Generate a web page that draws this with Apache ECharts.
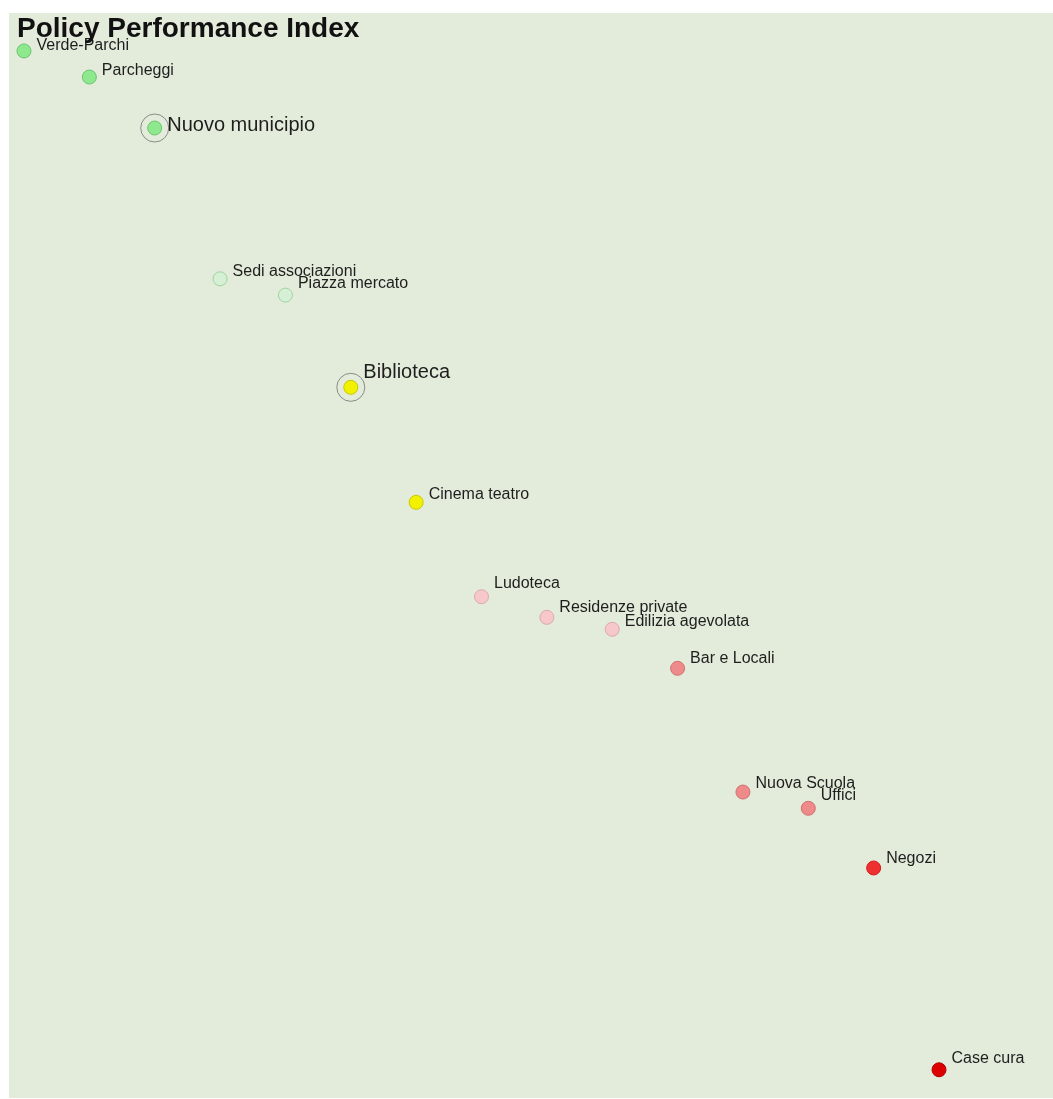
<!DOCTYPE html>
<html>
<head>
<meta charset="utf-8">
<script src="https://cdn.jsdelivr.net/npm/echarts@6/dist/echarts.min.js"></script>
<style>
  html, body { margin: 0; padding: 0; background: #fff; }
  #layout { width: 1053px; height: 1099px; }
</style>
</head>
<body>
<div id="layout"></div>
<script>
// policies, ordered by rank (x) with their performance index (y)
const policies = ['Verde-Parchi', 'Parcheggi', 'Nuovo municipio', 'Sedi associazioni', 'Piazza mercato',
    'Biblioteca', 'Cinema teatro', 'Ludoteca', 'Residenze private', 'Edilizia agevolata',
    'Bar e Locali', 'Nuova Scuola', 'Uffici', 'Negozi', 'Case cura'];
const ranks = [1, 2, 3, 4, 5, 6, 7, 8, 9, 10, 11, 12, 13, 14, 15];
const scores = [96.5, 94.1, 89.4, 75.5, 74.0, 65.5, 54.9, 46.2, 44.3, 43.2, 39.6, 28.2, 26.7, 21.2, 2.6];
// colour class of each point
const classes = ['g', 'g', 'g', 'lg', 'lg', 'y', 'y', 'p', 'p', 'p', 'lc', 'lc', 'lc', 'r', 'dr'];
// policies drawn with a ring and a larger label
const featured = ['Nuovo municipio', 'Biblioteca'];

const palette = {
    g:  { fill: '#8ee88e', border: '#6cc46c' },
    lg: { fill: '#d6f0d6', border: '#9fd49f' },
    y:  { fill: '#f2f200', border: '#c8c800' },
    p:  { fill: '#f6c8cc', border: '#dca8ac' },
    lc: { fill: '#ee8a8a', border: '#d07070' },
    r:  { fill: '#ee3030', border: '#d02020' },
    dr: { fill: '#dd0000', border: '#b00000' }
};
// vertical nudge of each label (px)
const labelDy = {
    'Verde-Parchi': -5, 'Parcheggi': -6, 'Nuovo municipio': -3, 'Sedi associazioni': -7,
    'Piazza mercato': -12, 'Biblioteca': -15, 'Cinema teatro': -8, 'Ludoteca': -13,
    'Residenze private': -10, 'Edilizia agevolata': -8, 'Bar e Locali': -10,
    'Nuova Scuola': -8, 'Uffici': -13, 'Negozi': -9, 'Case cura': -11
};

let myChart = echarts.init(document.getElementById('layout'));

let points = policies.map(function(name, i) {
    let c = palette[classes[i]];
    let big = featured.indexOf(name) >= 0;
    return {
        name: name,
        value: [ranks[i], scores[i]],
        itemStyle: { color: c.fill, borderColor: c.border, borderWidth: 1, opacity: 1 },
        label: {
            fontSize: big ? 20 : 16,
            offset: [0, labelDy[name]]
        }
    };
});

let rings = policies.map(function(name, i) {
    return featured.indexOf(name) >= 0 ? [ranks[i], scores[i]] : null;
}).filter(function(v) { return v; });

let option = {
    animation: false,
    title: {
        text: 'Policy Performance Index',
        left: 17,
        top: 15,
        padding: 0,
        textStyle: {
            fontFamily: 'Liberation Sans, Arial, sans-serif',
            fontSize: 28,
            fontWeight: 'bold',
            color: '#111'
        }
    },
    grid: {
        left: 9,
        right: 0,
        top: 13,
        bottom: 1,
        show: true,
        backgroundColor: '#e3ecdb',
        borderWidth: 0
    },
    xAxis: {
        type: 'value',
        min: 0.7705,
        max: 16.744,
        show: false
    },
    yAxis: {
        type: 'value',
        min: 0,
        max: 100,
        show: false
    },
    series: [
        {
            type: 'scatter',
            data: rings,
            symbolSize: 28,
            silent: true,
            itemStyle: { color: 'rgba(0,0,0,0)', borderColor: '#8a8a8a', borderWidth: 1, opacity: 1 },
            z: 2
        },
        {
            type: 'scatter',
            data: points,
            symbolSize: 14,
            label: {
                show: true,
                position: 'right',
                distance: 5,
                formatter: '{b}',
                fontFamily: 'Liberation Sans, Arial, sans-serif',
                color: '#1e1e1e'
            },
            z: 3
        }
    ]
};
myChart.setOption(option);
</script>
</body>
</html>
